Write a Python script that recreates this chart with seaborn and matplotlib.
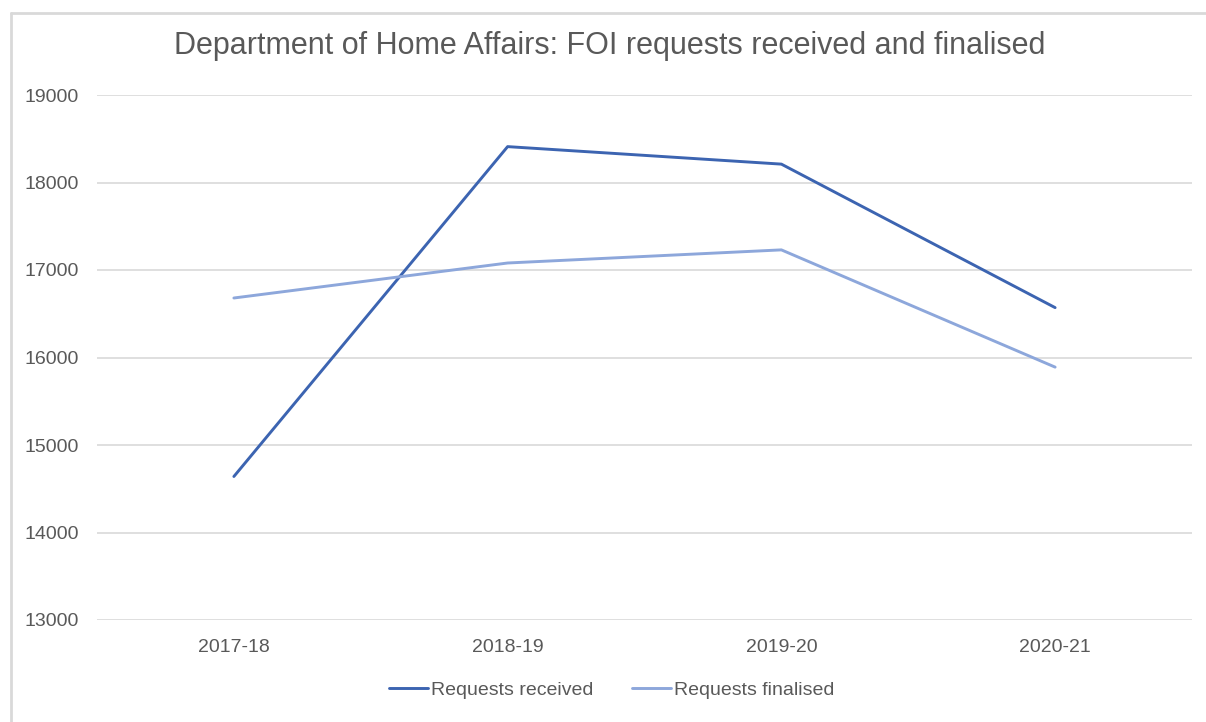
import pandas as pd
import matplotlib
matplotlib.use("Agg")
import matplotlib.pyplot as plt
from matplotlib.lines import Line2D
import seaborn as sns

# Data
years = ["2017-18", "2018-19", "2019-20", "2020-21"]
received = [14640, 18410, 18210, 16570]
finalised = [16680, 17080, 17230, 15890]
series_names = ["Requests received", "Requests finalised"]
y_ticks = [13000, 14000, 15000, 16000, 17000, 18000, 19000]

df = pd.DataFrame({
    "Year": years * 2,
    "Count": received + finalised,
    "Series": [series_names[0]] * 4 + [series_names[1]] * 4,
})

sns.set_theme(style="white")
plt.rcParams["font.family"] = ["Liberation Sans", "DejaVu Sans"]

txt = "#595959"
grid = "#D9D9D9"
palette = {series_names[0]: "#3C64B1", series_names[1]: "#8DA7DB"}

fig = plt.figure(figsize=(12.06, 7.22), dpi=100)
ax = fig.add_axes([97 / 1206, 1 - 620 / 722, (1192 - 97) / 1206, (620 - 95) / 722])

sns.lineplot(data=df, x="Year", y="Count", hue="Series", palette=palette,
             linewidth=2.1, ax=ax, legend=False, sort=False)

ax.set_xlim(-0.5, len(years) - 0.5)
ax.set_ylim(13000, 19000)
ax.set_yticks(y_ticks)
ax.set_xlabel("")
ax.set_ylabel("")
for s in ax.spines.values():
    s.set_visible(False)
ax.yaxis.grid(True, color=grid, linewidth=1.2)
ax.xaxis.grid(False)
ax.set_axisbelow(True)
ax.tick_params(axis="both", length=0, colors=txt, labelsize=14)
ax.tick_params(axis="y", pad=13)
ax.tick_params(axis="x", pad=14)

fig.text(610 / 1206, 1 - 46 / 722,
         "Department of Home Affairs: FOI requests received and finalised",
         ha="center", va="center", fontsize=22, color=txt)

handles = [Line2D([], [], color=palette[n], linewidth=2.1) for n in series_names]
fig.legend(handles, series_names, loc="center", bbox_to_anchor=(612 / 1206, 1 - 690 / 722),
           ncol=2, frameon=False, fontsize=14, handlelength=2.0, handletextpad=0.15,
           columnspacing=2.0, labelcolor=txt)

# chart frame (top and left edges only, as in the screenshot)
fig.add_artist(Line2D([11 / 1206, 1], [1 - 13 / 722, 1 - 13 / 722],
                      transform=fig.transFigure, color="#D9D9D9", linewidth=2))
fig.add_artist(Line2D([11 / 1206, 11 / 1206], [0, 1 - 13 / 722],
                      transform=fig.transFigure, color="#D9D9D9", linewidth=2))

fig.savefig("out.png", dpi=100)
